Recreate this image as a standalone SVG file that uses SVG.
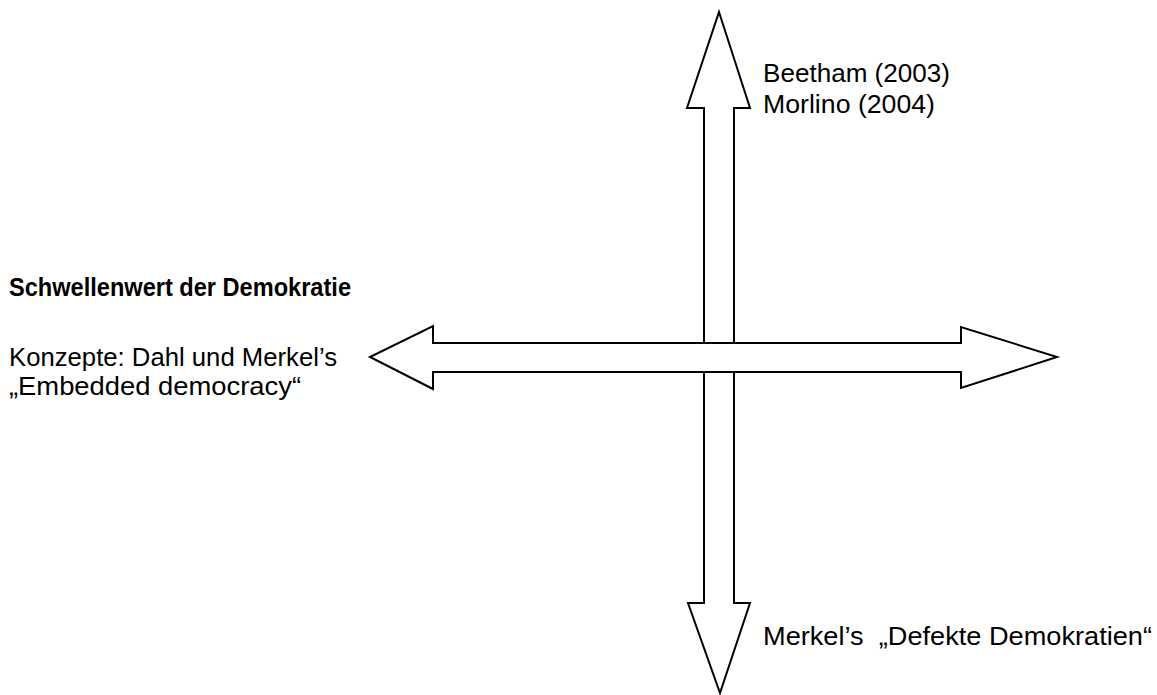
<svg xmlns="http://www.w3.org/2000/svg" width="1157" height="695" viewBox="0 0 1157 695">
<style>
.arrow{fill:#fff;stroke:#000;stroke-width:2;stroke-linejoin:miter}
.t{font-family:"Liberation Sans",Arial,sans-serif;font-size:26px;fill:#000}
.b{font-weight:bold;font-size:25px}
</style>
<rect width="1157" height="695" fill="#fff"/>
<g id="connectors">
<polygon id="vertical-arrow" class="arrow" points="719,12 750,108 734,108 734,603 750,603 720,693 688,603 704,603 704,108 687,108"/>
<polygon id="horizontal-arrow" class="arrow" points="370,357 433,326 433,343 961,343 961,327 1057,357 961,388 961,372 433,372 433,389"/>
</g>
<g id="top-label"><text class="t" x="763" y="82" textLength="187" lengthAdjust="spacingAndGlyphs">Beetham (2003)</text><text class="t" x="763" y="113" textLength="172" lengthAdjust="spacingAndGlyphs">Morlino (2004)</text></g>
<g id="left-label">
<text class="t b" x="9" y="296" textLength="342" lengthAdjust="spacingAndGlyphs">Schwellenwert der Demokratie</text>
<text class="t" x="9" y="366" textLength="328" lengthAdjust="spacingAndGlyphs">Konzepte: Dahl und Merkel’s</text>
<text class="t" x="9" y="395" textLength="292" lengthAdjust="spacingAndGlyphs">„Embedded democracy“</text>
</g>
<g id="bottom-label"><text class="t" x="763" y="645" xml:space="preserve" textLength="389" lengthAdjust="spacingAndGlyphs">Merkel’s  „Defekte Demokratien“</text></g>
</svg>
